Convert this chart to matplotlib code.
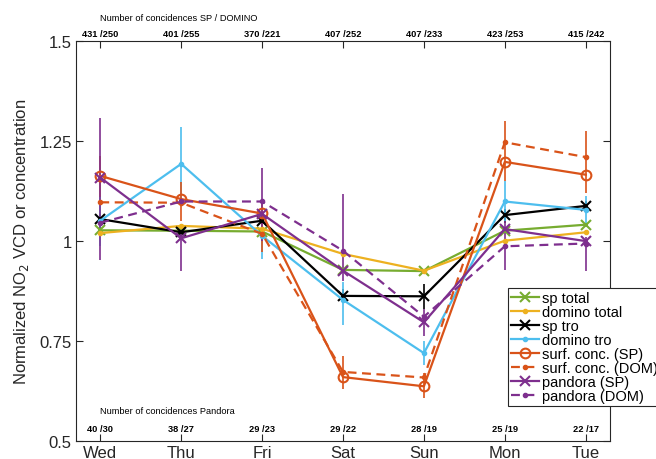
import matplotlib
matplotlib.use("Agg")
import matplotlib.pyplot as plt

plt.rcParams['font.family'] = ['Liberation Sans', 'DejaVu Sans']

days = ["Wed", "Thu", "Fri", "Sat", "Sun", "Mon", "Tue"]
counts_sp_dom = ["431 /250", "401 /255", "370 /221", "407 /252", "407 /233", "423 /253", "415 /242"]
counts_pandora = ["40 /30", "38 /27", "29 /23", "29 /22", "28 /19", "25 /19", "22 /17"]
yticks = [0.5, 0.75, 1.0, 1.25, 1.5]
ytick_labels = ["0.5", "0.75", "1", "1.25", "1.5"]

sp_total = [1.026, 1.025, 1.023, 0.927, 0.924, 1.025, 1.040]
domino_total = [1.019, 1.037, 1.030, 0.967, 0.925, 1.000, 1.021]
sp_tro = [1.054, 1.021, 1.050, 0.862, 0.861, 1.064, 1.087]
domino_tro = [1.050, 1.192, 1.012, 0.852, 0.719, 1.098, 1.077]
surf_sp = [1.162, 1.104, 1.068, 0.659, 0.636, 1.197, 1.165]
surf_dom = [1.096, 1.095, 1.017, 0.672, 0.658, 1.246, 1.209]
pandora_sp = [1.158, 1.006, 1.067, 0.925, 0.796, 1.029, 0.999]
pandora_dom = [1.045, 1.098, 1.098, 0.975, 0.810, 0.986, 0.993]

# error bar bounds (lower, upper)
sp_tro_lo = [1.040, 1.005, 1.035, 0.845, 0.830, 1.045, 1.070]
sp_tro_hi = [1.066, 1.036, 1.064, 0.880, 0.892, 1.080, 1.100]
domino_tro_lo = [0.988, 1.100, 0.954, 0.788, 0.690, 1.050, 1.040]
domino_tro_hi = [1.110, 1.285, 1.050, 0.897, 0.750, 1.150, 1.112]
surf_sp_lo = [1.110, 1.050, 0.971, 0.629, 0.608, 1.150, 1.120]
surf_sp_hi = [1.212, 1.146, 1.100, 0.712, 0.670, 1.300, 1.275]
pandora_sp_lo = [0.952, 0.925, 1.000, 0.900, 0.762, 0.927, 0.925]
pandora_sp_hi = [1.306, 1.030, 1.183, 1.117, 0.829, 1.050, 1.010]

GREEN = "#77AC30"
YELLOW = "#EDB120"
BLUE = "#4DBEEE"
ORANGE = "#D95319"
PURPLE = "#7E2F8E"
AX = "#262626"

x = list(range(1, 8))

fig = plt.figure(figsize=(6.56, 4.6), dpi=100)
ax = fig.add_axes([76/656, 1-441.7/460, (610-76)/656, 400/460])

def bars(lo, hi, color):
    ax.vlines(x, lo, hi, color=color, lw=1.2, zorder=2)

bars(sp_tro_lo, sp_tro_hi, "black")
bars(domino_tro_lo, domino_tro_hi, BLUE)
bars(surf_sp_lo, surf_sp_hi, ORANGE)
bars(pandora_sp_lo, pandora_sp_hi, PURPLE)

lw = 1.6
dash = (0, (4, 2.5))
ax.plot(x, sp_total, color=GREEN, lw=lw, marker='x', ms=7, mew=1.5, label="sp total", zorder=3)
ax.plot(x, domino_total, color=YELLOW, lw=lw, marker='.', ms=6, label="domino total", zorder=3)
ax.plot(x, sp_tro, color="black", lw=lw, marker='x', ms=7, mew=1.5, label="sp tro", zorder=3)
ax.plot(x, domino_tro, color=BLUE, lw=lw, marker='.', ms=6, label="domino tro", zorder=3)
ax.plot(x, surf_sp, color=ORANGE, lw=lw, marker='o', ms=7, mfc='none', mew=1.5, label="surf. conc. (SP)", zorder=3)
ax.plot(x, surf_dom, color=ORANGE, lw=lw, ls=dash, marker='.', ms=6, label="surf. conc. (DOM)", zorder=3)
ax.plot(x, pandora_sp, color=PURPLE, lw=lw, marker='x', ms=7, mew=1.5, label="pandora (SP)", zorder=3)
ax.plot(x, pandora_dom, color=PURPLE, lw=lw, ls=dash, marker='.', ms=6, label="pandora (DOM)", zorder=3)

ax.set_xlim(0.7, 7.3)
ax.set_ylim(0.5, 1.5)
ax.set_xticks(x)
ax.set_xticklabels(days, fontsize=12, color=AX)
ax.set_yticks(yticks)
ax.set_yticklabels(ytick_labels, fontsize=12, color=AX)
ax.tick_params(direction='in', top=True, right=True, length=5, width=0.8, color=AX, pad=3)
for s in ax.spines.values():
    s.set_color(AX)
    s.set_linewidth(0.8)

ax.set_ylabel("Normalized NO$_2$ VCD or concentration", fontsize=12, color=AX, labelpad=6)

for xi, t in zip(x, counts_sp_dom):
    ax.text(xi, 1.5185, t, ha='center', va='center', fontsize=6.7, fontweight='bold', clip_on=False)
ax.text(1, 1.5585, "Number of concidences SP / DOMINO", ha='left', va='center', fontsize=6.7, clip_on=False)
for xi, t in zip(x, counts_pandora):
    ax.text(xi, 0.531, t, ha='center', va='center', fontsize=6.7, fontweight='bold')
ax.text(1, 0.5767, "Number of concidences Pandora", ha='left', va='center', fontsize=6.7)

leg = ax.legend(loc='upper left', bbox_to_anchor=(508/656, 1-289.3/460), bbox_transform=fig.transFigure,
                fontsize=10.5, frameon=True, fancybox=False, edgecolor=AX, framealpha=1,
                borderpad=0.2, labelspacing=0.0, handlelength=1.9, handletextpad=0.2,
                borderaxespad=0.0)
leg.get_frame().set_linewidth(0.8)
leg.set_zorder(10)

fig.savefig("out.png", dpi=100)
